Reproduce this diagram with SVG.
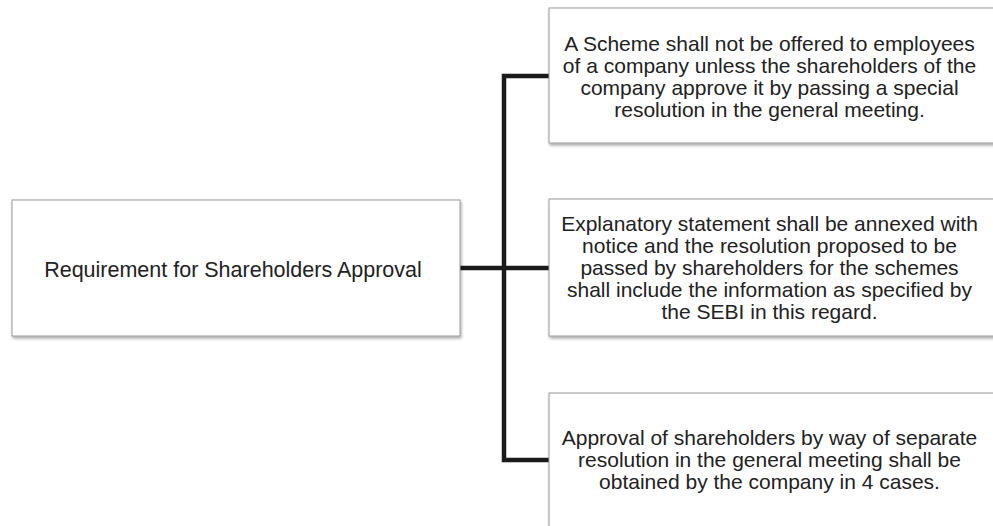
<svg xmlns="http://www.w3.org/2000/svg" width="993" height="526" viewBox="0 0 993 526">
<defs>
<filter id="sh" x="-10%" y="-10%" width="130%" height="130%">
<feGaussianBlur in="SourceAlpha" stdDeviation="1.5"/>
<feOffset dx="1" dy="2" result="b"/>
<feComponentTransfer><feFuncA type="linear" slope="0.35"/></feComponentTransfer>
<feMerge><feMergeNode/><feMergeNode in="SourceGraphic"/></feMerge>
</filter>
</defs>
<style>
.box{fill:#fff;stroke:#9a9a9a;stroke-width:1;filter:url(#sh)}
.t{font-family:"Liberation Sans",Arial,sans-serif;font-size:21px;fill:#222;text-anchor:middle}
.c{fill:none;stroke:#1a1a1a;stroke-width:4.5;stroke-linejoin:miter}
</style>
<rect width="993" height="526" fill="#fff"/>
<g id="connectors">
<path class="c" d="M460 268 H504 M549 76 H504 V460 H549 M504 268 H549"/>
</g>
<g id="root">
<rect class="box" x="12" y="200" width="448" height="136"/>
<text class="t" x="233" y="276.5" style="font-size:21.5px">Requirement for Shareholders Approval</text>
</g>
<g id="n1">
<rect class="box" x="549" y="8" width="460" height="135"/>
<text class="t"><tspan x="769.5" y="51">A Scheme shall not be offered to employees</tspan><tspan x="769.5" y="73">of a company unless the shareholders of the</tspan><tspan x="769.5" y="95">company approve it by passing a special</tspan><tspan x="769.5" y="117">resolution in the general meeting.</tspan></text>
</g>
<g id="n2">
<rect class="box" x="549" y="199" width="460" height="137"/>
<text class="t"><tspan x="769.5" y="231">Explanatory statement shall be annexed with</tspan><tspan x="769.5" y="253">notice and the resolution proposed to be</tspan><tspan x="769.5" y="275">passed by shareholders for the schemes</tspan><tspan x="769.5" y="297">shall include the information as specified by</tspan><tspan x="769.5" y="319">the SEBI in this regard.</tspan></text>
</g>
<g id="n3">
<rect class="box" x="549" y="393" width="460" height="150"/>
<text class="t"><tspan x="769.5" y="445">Approval of shareholders by way of separate</tspan><tspan x="769.5" y="467">resolution in the general meeting shall be</tspan><tspan x="769.5" y="489">obtained by the company in 4 cases.</tspan></text>
</g>
</svg>
